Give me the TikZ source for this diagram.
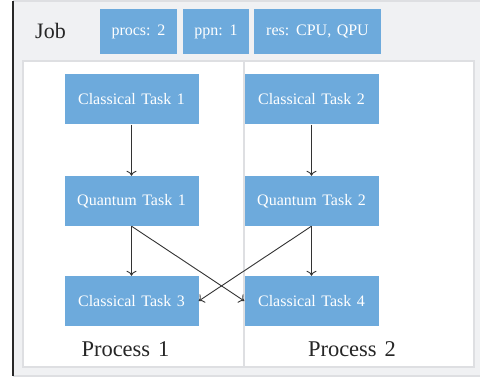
\documentclass[tikz,border=0pt]{standalone}
\usepackage{fontspec}
\setmainfont{Liberation Serif}
\usetikzlibrary{arrows.meta,positioning}
\definecolor{TaskBlue}{RGB}{109,170,220}
\definecolor{JobGray}{RGB}{240,241,243}
\definecolor{FrameGray}{RGB}{222,223,226}
\definecolor{EdgeDark}{RGB}{40,40,40}
\definecolor{ArrowGray}{RGB}{51,51,51}
\tikzset{
  task/.style={fill=TaskBlue,text=white,minimum width=134pt,minimum height=50pt,
    inner sep=0pt,font={\fontsize{16}{19}\selectfont\spaceskip 5.5pt\relax}},
  tag/.style={fill=TaskBlue,text=white,minimum height=45pt,
    inner sep=0pt,font={\fontsize{16}{19}\selectfont\spaceskip 5.5pt\relax}},
  biglabel/.style={anchor=base,inner sep=0pt,text=black!85,
    font={\fontsize{22.5}{26}\selectfont\spaceskip 8pt\relax}},
  flow/.style={-{To[length=5pt,width=10pt]},line width=0.9pt,ArrowGray}
}
\begin{document}
\begin{tikzpicture}[x=1pt,y=-1pt]
  \useasboundingbox (0,0) rectangle (480,377);
  % job frame
  \fill[JobGray] (13,1) rectangle (482,376);
  \draw[FrameGray,line width=1.2pt] (13,1) -- (482,1);
  \draw[FrameGray,line width=1.2pt] (13,376) -- (482,376);
  \draw[EdgeDark,line width=1.2pt] (13,1) -- (13,376);
  \node[anchor=base west,inner sep=0pt,text=black!85,font=\fontsize{22}{26}\selectfont]
    (job) at (35,39) {Job};
  \node[tag,minimum width=77pt] (procs) at (138.5,31.5) {procs: 2};
  \node[tag,minimum width=66pt] (ppn) at (216,31.5) {ppn: 1};
  \node[tag,minimum width=127pt] (res) at (317.5,31.5) {res: CPU, QPU};
  % processes
  \fill[white] (23,61) rectangle (474,367);
  \draw[FrameGray,line width=1.5pt] (23,61) rectangle (474,367);
  \draw[FrameGray,line width=1.5pt] (244,61) -- (244,367);
  \node[task] (ct1) at (131.5,99.5) {Classical Task 1};
  \node[task] (ct2) at (311.5,99.5) {Classical Task 2};
  \node[task] (qt1) at (131.5,201) {Quantum Task 1};
  \node[task] (qt2) at (311.5,201) {Quantum Task 2};
  \node[task] (ct3) at (131.5,301) {Classical Task 3};
  \node[task] (ct4) at (311.5,301) {Classical Task 4};
  \node[biglabel] (proc1) at (125.5,356) {Process 1};
  \node[biglabel] (proc2) at (352,356) {Process 2};
  \draw[flow] (ct1) -- (qt1);
  \draw[flow] (qt1) -- (ct3);
  \draw[flow] (ct2) -- (qt2);
  \draw[flow] (qt2) -- (ct4);
  \draw[flow] (qt1.south) -- (ct4.west);
  \draw[flow] (qt2.south) -- (ct3.east);
\end{tikzpicture}
\end{document}
